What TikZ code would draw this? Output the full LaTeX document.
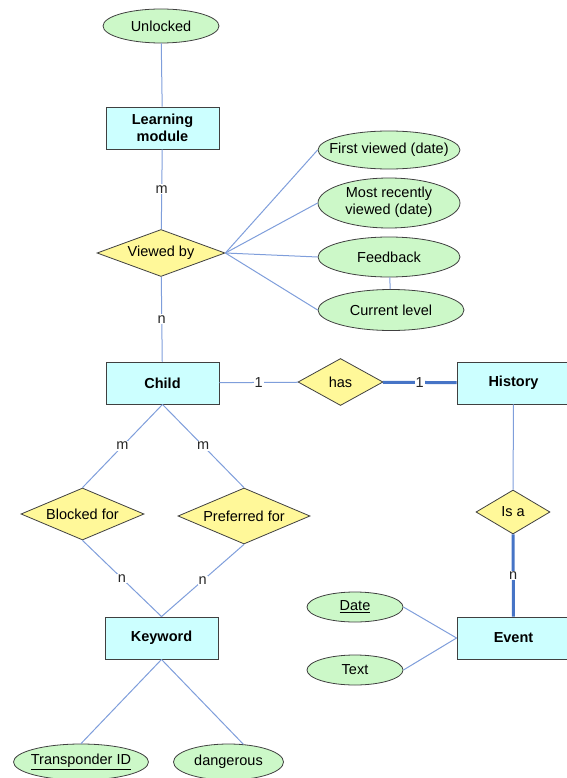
\documentclass[tikz,border=0pt]{standalone}
\usepackage{fontspec}
\setmainfont{Liberation Sans}
\usetikzlibrary{shapes.geometric}

\definecolor{entityfill}{HTML}{CCFFFF}
\definecolor{relfill}{HTML}{FFF899}
\definecolor{attrfill}{HTML}{CCF8C8}
\definecolor{linkblue}{HTML}{7F9EDB}
\definecolor{strongblue}{HTML}{4674C6}
\newcommand{\zw}[1]{\makebox[0pt]{#1}}

\begin{document}
\begin{tikzpicture}[x=1pt,y=-1pt,
	font=\fontsize{14.5}{17}\selectfont,
	entity/.style={shape=rectangle,draw=black!75,line width=0.9pt,fill=entityfill,minimum width=113pt,minimum height=42pt,inner sep=0pt,align=center,font=\fontsize{14.5}{17}\selectfont\bfseries},
	relation/.style={shape=diamond,draw=black!75,line width=0.8pt,fill=relfill,aspect=2.5,inner sep=0pt},
	attribute/.style={shape=ellipse,draw=black!75,line width=0.8pt,fill=attrfill,inner sep=0pt},
	link/.style={-,draw=linkblue,line width=1pt},
	strong/.style={-,draw=strongblue,line width=3pt},
	card/.style={fill=white,inner sep=1pt,text=black!85}]
	
	\useasboundingbox (0,0) rectangle (566,778);
	
	\node[attribute,minimum width=116pt,minimum height=34pt] (unlocked) at (161,26) {\zw{Unlocked}};
	\node[entity] (module) at (162.5,128) {Learning\\module};
	\node[relation,minimum width=128pt,minimum height=47pt] (viewed) at (161,253) {Viewed by};
	\node[attribute,minimum width=142pt,minimum height=38pt] (first) at (389,150) {\zw{First viewed (date)}};
	\node[attribute,minimum width=142pt,minimum height=50pt] (recent) at (389,203) {\zw{\begin{tabular}{@{}c@{}}Most recently\\viewed (date)\end{tabular}}};
	\node[attribute,minimum width=142pt,minimum height=40pt] (feedback) at (389,257) {\zw{Feedback}};
	\node[attribute,minimum width=146pt,minimum height=41pt] (level) at (391,310) {\zw{Current level}};
	\node[entity] (child) at (162.5,383) {Child};
	\node[relation,minimum width=85pt,minimum height=47pt] (has) at (340.5,382) {has};
	\node[entity] (history) at (513.5,383) {History};
	\node[relation,minimum width=123pt,minimum height=52pt] (blocked) at (82.5,514) {Blocked for};
	\node[relation,minimum width=132pt,minimum height=56pt] (preferred) at (244,516) {Preferred for};
	\node[relation,minimum width=74pt,minimum height=44pt] (isa) at (513,512) {Is a};
	\node[entity] (keyword) at (161.5,638) {Keyword};
	\node[entity] (event) at (513.5,638) {Event};
	\node[attribute,minimum width=96pt,minimum height=30pt] (date) at (355,607) {\zw{\underline{Date}}};
	\node[attribute,minimum width=96pt,minimum height=30pt] (text) at (355,670) {\zw{Text}};
	\node[attribute,minimum width=135pt,minimum height=36pt] (transponder) at (81,762) {\zw{\underline{Transponder ID}}};
	\node[attribute,minimum width=110pt,minimum height=36pt] (dangerous) at (228.5,762) {\zw{dangerous}};
	
	\path[link] (unlocked) edge (module);
	\path[link] (module) edge node[card] {m} (viewed);
	\path[link] (viewed) edge node[card] {n} (child);
	\path[link] (viewed.east) edge (first.west);
	\path[link] (viewed.east) edge (recent.west);
	\path[link] (viewed.east) edge (feedback.west);
	\path[link] (viewed.east) edge (level.west);
	\path[link] (feedback) edge (level);
	\path[link] (child) edge node[card] {1} (has);
	\path[strong] (has) edge node[card] {1} (history);
	\path[link] (child.south) edge node[card] {m} (blocked.north);
	\path[link] (child.south) edge node[card] {m} (preferred.north);
	\path[link] (blocked.south) edge node[card] {n} (keyword.north);
	\path[link] (preferred.south) edge node[card] {n} (keyword.north);
	\path[link] (history) edge (isa);
	\path[strong] (isa) edge node[card] {n} (event);
	\path[link] (date.east) edge (event.west);
	\path[link] (text.east) edge (event.west);
	\path[link] (keyword.south) edge (transponder.north);
	\path[link] (keyword.south) edge (dangerous.50);
	
\end{tikzpicture}
\end{document}
